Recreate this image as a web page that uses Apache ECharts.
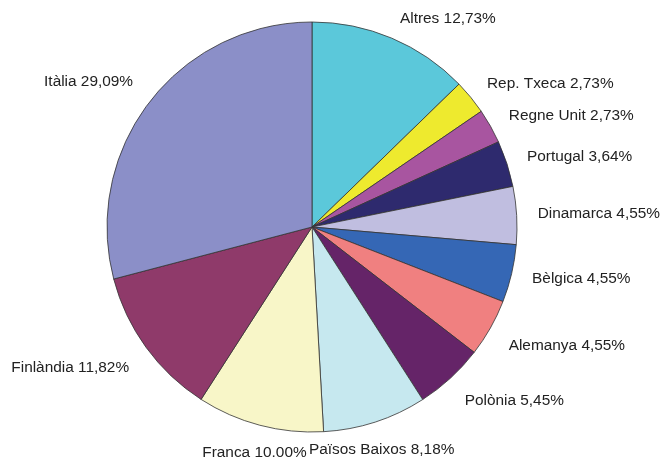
<!DOCTYPE html>
<html><head><meta charset="utf-8">
<script src="https://cdn.jsdelivr.net/npm/echarts@6/dist/echarts.min.js"></script>
<style>html,body{margin:0;padding:0;background:#fff}#c{width:662px;height:459px}</style>
</head><body><div id="c"></div>
<script>
const categories = ["Altres","Rep. Txeca","Regne Unit","Portugal","Dinamarca","Bèlgica","Alemanya","Polònia","Països Baixos","Franca","Finlàndia","Itàlia"];
const values = [12.73,2.73,2.73,3.64,4.55,4.55,4.55,5.45,8.18,10.00,11.82,29.09];
const pctLabels = ["12,73%","2,73%","2,73%","3,64%","4,55%","4,55%","4,55%","5,45%","8,18%","10.00%","11,82%","29,09%"];
const colors = ["#5BC8DA","#EEEA2E","#A855A0","#2E2A6E","#C0BEE0","#3567B5","#F08080","#652468","#C6E8EF","#F8F6C8","#8F3A6A","#8B8FC8"];

const CX = 312, CY = 227, R = 205, GAP = 21;
const total = values.reduce((a,b)=>a+b,0);
const midAngles = [];
{ let cum = 0; values.forEach(v=>{ midAngles.push(2*Math.PI*(cum+v/2)/total); cum += v; }); }

const chart = echarts.init(document.getElementById('c'), null, {renderer:'canvas'});
chart.setOption({
  animation:false,
  series:[{
    type:'pie',
    center:[CX,CY],
    radius:R,
    startAngle:90,
    clockwise:true,
    avoidLabelOverlap:false,
    data: categories.map((n,i)=>({name:n, value:values[i], itemStyle:{color:colors[i]}})),
    itemStyle:{borderColor:'#333',borderWidth:0.8},
    label:{
      position:'outside',
      formatter:(p)=>p.name+' '+pctLabels[p.dataIndex],
      fontFamily:'Liberation Sans, Arial, sans-serif',
      fontSize:15.4,
      color:'#222'
    },
    labelLine:{show:false},
    labelLayout:(p)=>{
      const a = midAngles[p.dataIndex];
      const s = Math.sin(a), c = -Math.cos(a);
      const x = CX + s*(R+GAP), y = CY + c*(R+GAP);
      const align = Math.abs(s) < 0.35 ? 'center' : (s > 0 ? 'left' : 'right');
      let va = 'middle';
      if (c > 0.3) va = 'top';
      else if (c < -0.3 && s < 0) va = 'bottom';
      return {x:x, y:y, align:align, verticalAlign:va};
    },
    emphasis:{disabled:true}
  }]
});
</script></body></html>
